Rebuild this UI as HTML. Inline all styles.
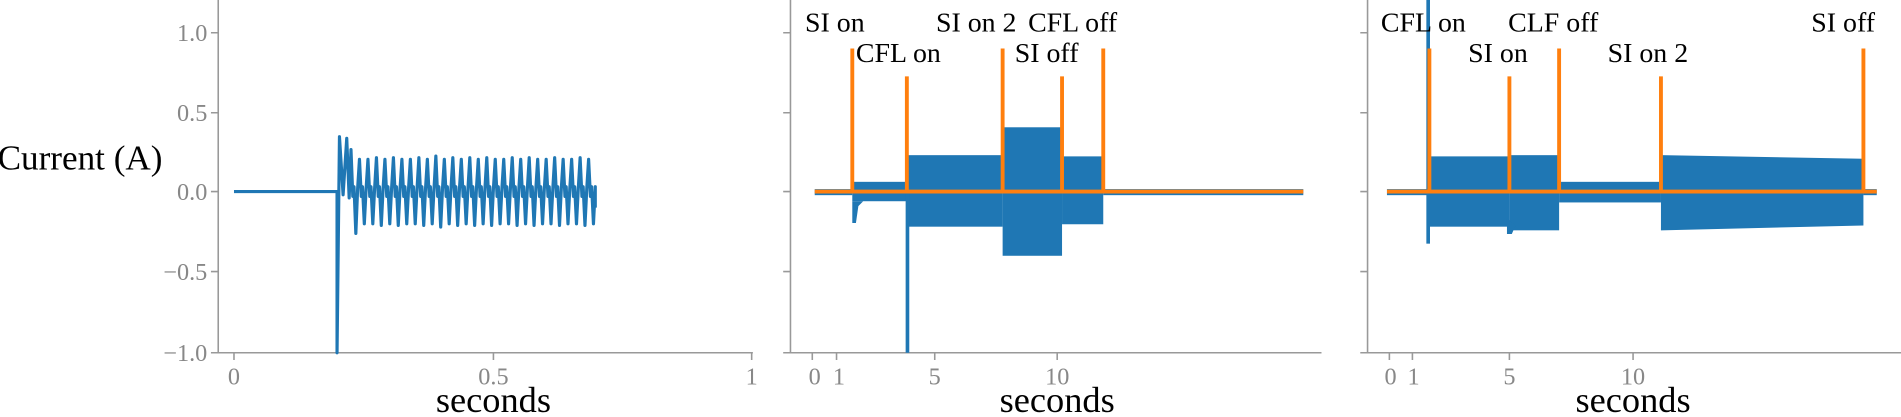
<!DOCTYPE html>
<html><head><meta charset="utf-8"><style>
body{margin:0;background:#fff;}
svg{display:block;font-family:"Liberation Serif",serif;}
.t{fill:#888;font-size:20px;}
.l{fill:#000;font-size:23px;}
</style></head><body>
<svg id="s" width="1901" height="417" viewBox="0 0 1568 344" preserveAspectRatio="none" xmlns="http://www.w3.org/2000/svg">
<g stroke="#999" stroke-width="1.3" fill="none">
<path d="M180 0V291H621M174 27H180M174 93H180M174 158H180M174 224H180M174 291H180M193 291V297M407 291V297M620 291V297"/>
<path d="M652 0V291H1090M646 27H652M646 93H652M646 158H652M646 224H652M646 291H652M670 291V297M690 291V297M771 291V297M872 291V297"/>
<path d="M1128 0V291H1568M1122 27H1128M1122 93H1128M1122 158H1128M1122 224H1128M1122 291H1128M1146 291V297M1165 291V297M1245 291V297M1347 291V297"/>
</g>
<g class="t" text-anchor="end">
<text x="171" y="34">1.0</text><text x="171" y="100">0.5</text><text x="171" y="165">0.0</text><text x="171" y="231">−0.5</text><text x="171" y="298">−1.0</text>
</g>
<g class="t" text-anchor="middle">
<text x="193" y="317">0</text><text x="407" y="317">0.5</text><text x="620" y="317">1</text>
<text x="672" y="317">0</text><text x="692" y="317">1</text><text x="771" y="317">5</text><text x="872" y="317">10</text>
<text x="1147" y="317">0</text><text x="1166" y="317">1</text><text x="1245" y="317">5</text><text x="1347" y="317">10</text>
</g>
<g font-size="30" text-anchor="middle" fill="#000">
<text x="407" y="340">seconds</text><text x="872" y="340">seconds</text><text x="1347" y="340">seconds</text>
</g>
<text x="-2" y="140" font-size="29" fill="#000">Current (A)</text>
<path id="p1" fill="none" stroke="#1f77b4" stroke-width="2.6" stroke-linejoin="round"/>
<g fill="#1f77b4">
<rect x="672" y="156" width="31" height="5"/>
<rect x="703" y="150" width="45" height="16"/>
<path d="M703 158 L703 184 L706 184 L708 170 L712 166 L703 166Z"/>
<rect x="748" y="128" width="79" height="59"/>
<rect x="747" y="150" width="3" height="141"/>
<rect x="827" y="105" width="49" height="106"/>
<rect x="876" y="129" width="34" height="56"/>
<rect x="910" y="156" width="165" height="5"/>
<rect x="1144" y="156" width="34" height="5"/>
<rect x="1178" y="129" width="67" height="58"/>
<rect x="1176.5" y="0" width="3" height="201"/>
<rect x="1245" y="128" width="41" height="62"/>
<path d="M1243 180 L1243 193 L1247 193 L1250 186Z"/>
<rect x="1286" y="150" width="84" height="17"/>
<path d="M1370 128 L1537 131 L1537 186 L1370 190Z"/>
<rect x="1537" y="156" width="11" height="5"/>
</g>
<g stroke="#ff7f0e" stroke-width="3.2" fill="none">
<path d="M672 158H1075M703 158V40M748 158V63M827 158V40M876 158V63M910 158V40"/>
<path d="M1144 158H1548M1179 158V40M1245 158V63M1286 158V40M1370 158V63M1537 158V40"/>
</g>
<g class="l">
<text x="664" y="26">SI on</text><text x="706" y="51">CFL on</text><text x="772" y="26">SI on 2</text><text x="837" y="51">SI off</text><text x="848" y="26">CFL off</text>
<text x="1139" y="26">CFL on</text><text x="1211" y="51">SI on</text><text x="1244" y="26">CLF off</text><text x="1326" y="51">SI on 2</text><text x="1494" y="26">SI off</text>
</g>
</svg>
<script>
(function(){
var y0=158,k=133;
var d="M193 "+y0+" L278 "+y0+" L278 291 L280 "+(y0-0.34*k)+" L283 "+(y0+0.02*k)+" L286 "+(y0-0.33*k)+" L288 "+(y0+0.04*k);
var x=288;
var amps=[0.26,0.2,0.2,0.21,0.2,0.21,0.2,0.2,0.21,0.2,0.22,0.2,0.21,0.2,0.21,0.2,0.21,0.2,0.2,0.21,0.2,0.21,0.2,0.2,0.21,0.2,0.2,0.21,0.2];
for(var i=0;i<amps.length;i++){
 var a=amps[i];
 d+=" L"+(x+1.5)+" "+(y0-a*k)+" L"+(x+3)+" "+(y0+0.03*k)+" L"+(x+4)+" "+(y0-0.03*k)+" L"+(x+5.5)+" "+(y0+a*k)+" L"+(x+7)+" "+(y0-0.02*k);
 x+=7;
}
d+=" L"+(x)+" "+(y0-0.03*k)+" L"+x+" "+(y0+0.1*k);
document.getElementById('p1').setAttribute('d',d);
})();
</script>
</body></html>
